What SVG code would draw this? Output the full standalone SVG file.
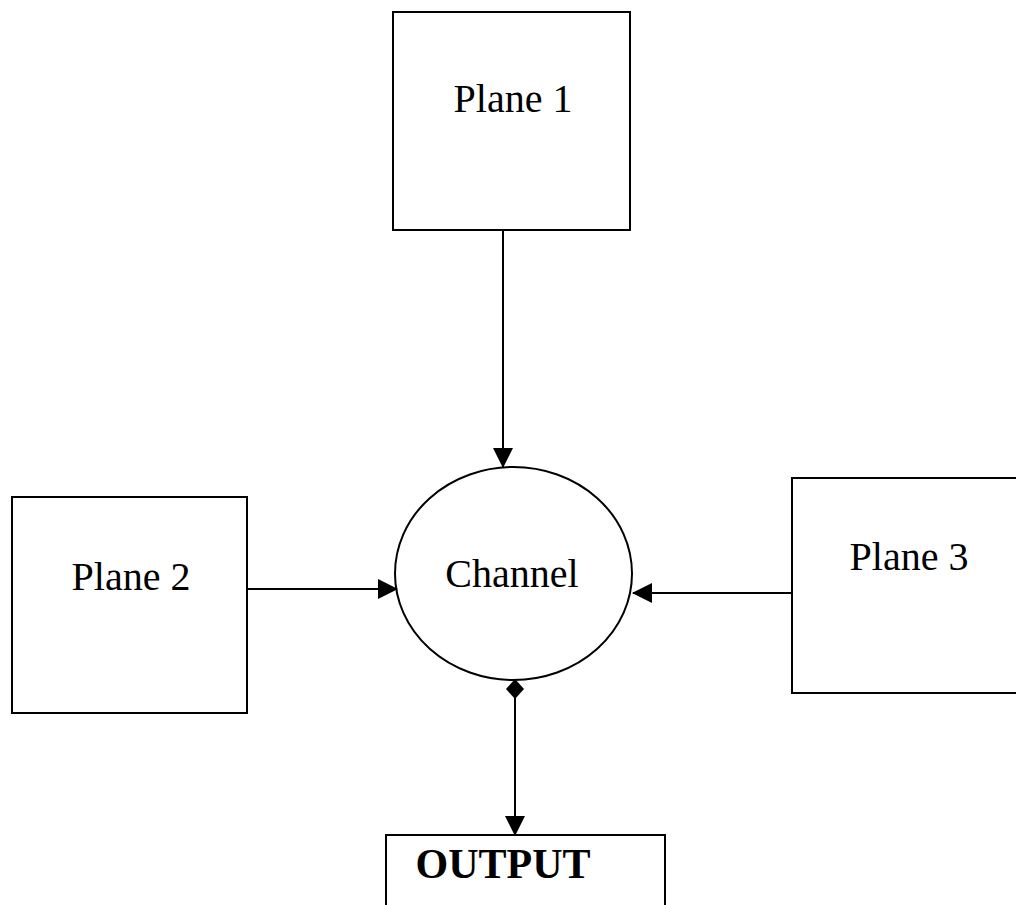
<svg xmlns="http://www.w3.org/2000/svg" width="1016" height="905" viewBox="0 0 1016 905">
<style>
.box{fill:#fff;stroke:#000;stroke-width:2}
.lbl{font-family:"Liberation Serif",serif;font-size:40px;fill:#000;text-anchor:middle}
.bold{font-weight:bold;font-size:42px}
.con{stroke:#000;stroke-width:2;fill:none}
</style>
<defs>
<marker id="arr" markerWidth="20" markerHeight="20" refX="19" refY="10" orient="auto" markerUnits="userSpaceOnUse" viewBox="0 0 20 20">
<path d="M0,0 L20,10 L0,20 Z" fill="#000"/>
</marker>
<marker id="dia" markerWidth="20" markerHeight="20" refX="1" refY="10" orient="auto" markerUnits="userSpaceOnUse" viewBox="0 0 20 20">
<path d="M0,10 L10,1 L20,10 L10,19 Z" fill="#000"/>
</marker>
</defs>
<rect width="1016" height="905" fill="#fff"/>
<g id="plane1">
<rect class="box" x="393" y="12" width="237" height="218"/>
<text class="lbl" x="513" y="112">Plane 1</text>
</g>
<g id="plane2">
<rect class="box" x="12" y="497" width="235" height="216"/>
<text class="lbl" x="131" y="590">Plane 2</text>
</g>
<g id="plane3">
<rect class="box" x="792" y="478" width="230" height="215"/>
<text class="lbl" x="909" y="570">Plane 3</text>
</g>
<g id="channel">
<ellipse class="box" cx="513.5" cy="573.5" rx="118.5" ry="106.5"/>
<text class="lbl" x="512" y="587">Channel</text>
</g>
<g id="output">
<rect class="box" x="386" y="835" width="279" height="90"/>
<text class="lbl bold" x="503" y="878">OUTPUT</text>
</g>
<g id="connectors">
<line class="con" x1="503" y1="230" x2="503" y2="467" marker-end="url(#arr)"/>
<line class="con" x1="247" y1="589" x2="397" y2="589" marker-end="url(#arr)"/>
<line class="con" x1="792" y1="593" x2="633" y2="593" marker-end="url(#arr)"/>
<line class="con" x1="515" y1="680" x2="515" y2="835" marker-start="url(#dia)" marker-end="url(#arr)"/>
</g>
</svg>
